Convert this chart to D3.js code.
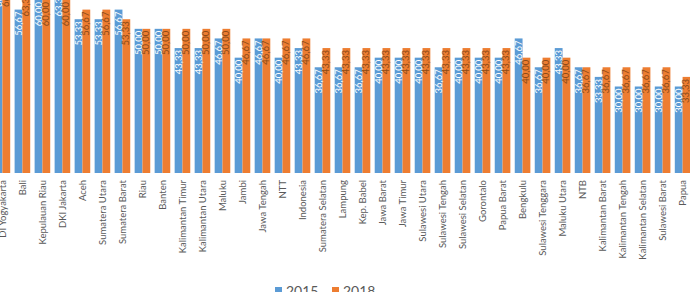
<!DOCTYPE html>
<html>
<head>
<meta charset="utf-8">
<script src="https://cdn.jsdelivr.net/npm/d3@7"></script>
<style>
  body { margin: 0; background: #fff; overflow: hidden; }
  svg { display: block; font-family: Lato, "Liberation Sans", sans-serif; }
</style>
</head>
<body>
<div id="chart"></div>
<script>
// Categories (provinces), in the order shown
const provinces = ['DI Yogyakarta', 'Bali', 'Kepulauan Riau', 'DKI Jakarta', 'Aceh', 'Sumatera Utara',
  'Sumatera Barat', 'Riau', 'Banten', 'Kalimantan Timur', 'Kalimantan Utara', 'Maluku', 'Jambi',
  'Jawa Tengah', 'NTT', 'Indonesia', 'Sumatera Selatan', 'Lampung', 'Kep. Babel', 'Jawa Barat',
  'Jawa Timur', 'Sulawesi Utara', 'Sulawesi Tengah', 'Sulawesi Selatan', 'Gorontalo', 'Papua Barat',
  'Bengkulu', 'Sulawesi Tenggara', 'Maluku Utara', 'NTB', 'Kalimantan Barat', 'Kalimantan Tengah',
  'Kalimantan Selatan', 'Sulawesi Barat', 'Papua'];

const values2015 = [66.67, 56.67, 60.00, 63.33, 53.33, 53.33, 56.67, 50.00, 50.00, 43.33, 43.33, 46.67,
  40.00, 46.67, 40.00, 43.33, 36.67, 36.67, 36.67, 40.00, 40.00, 40.00, 36.67, 40.00, 40.00, 40.00,
  46.67, 36.67, 43.33, 36.67, 33.33, 30.00, 30.00, 30.00, 30.00];

const values2018 = [66.67, 63.33, 60.00, 60.00, 56.67, 56.67, 53.33, 50.00, 50.00, 50.00, 50.00, 50.00,
  46.67, 46.67, 46.67, 46.67, 43.33, 43.33, 43.33, 43.33, 43.33, 43.33, 43.33, 43.33, 43.33, 43.33,
  40.00, 40.00, 40.00, 36.67, 36.67, 36.67, 36.67, 36.67, 33.33];

const seriesNames = ['2015', '2018'];
const colors = ['#5B9BD5', '#ED7D31'];
const labelColors = ['#ffffff', '#8c4a17'];

const W = 690, H = 292;
const svg = d3.select('#chart').append('svg')
  .attr('width', W)
  .attr('height', H);

// plot area is cropped at the top and sides in the reference
const x = d3.scaleBand()
  .domain(provinces)
  .range([-7.6, 692.6])
  .paddingInner(0.22)
  .paddingOuter(0.11);

const x1 = d3.scaleBand()
  .domain(seriesNames)
  .range([0, x.bandwidth()]);

const y = d3.scaleLinear()
  .domain([0, 60])
  .range([173, 0]);

const fmt = v => d3.format('.2f')(v).replace('.', ',');

const data = provinces.map((p, i) => ({ name: p, vals: [values2015[i], values2018[i]] }));

const groups = svg.append('g').selectAll('g')
  .data(data)
  .enter().append('g')
  .attr('transform', d => `translate(${x(d.name)},0)`);

groups.selectAll('rect')
  .data(d => d.vals.map((v, k) => ({ v, k })))
  .enter().append('rect')
  .attr('x', d => x1(seriesNames[d.k]))
  .attr('width', x1.bandwidth())
  .attr('y', d => y(d.v))
  .attr('height', d => y(0) - y(d.v))
  .attr('fill', d => colors[d.k]);

// value labels, rotated, inside the bar top
groups.selectAll('text')
  .data(d => d.vals.map((v, k) => ({ v, k })))
  .enter().append('text')
  .attr('transform', d => `translate(${x1(seriesNames[d.k]) + x1.bandwidth() / 2 + 3},${y(d.v) + 2}) rotate(-90)`)
  .attr('text-anchor', 'end')
  .style('font-size', '9.5px')
  .style('fill', d => labelColors[d.k])
  .text(d => fmt(d.v));

// category labels
svg.append('g').selectAll('text')
  .data(provinces)
  .enter().append('text')
  .attr('transform', d => `translate(${x(d) + x.bandwidth() / 2 + 3.5},180) rotate(-90)`)
  .attr('text-anchor', 'end')
  .style('font-size', '9.5px')
  .style('fill', '#595959')
  .text(d => d);

// legend
const legend = svg.append('g').attr('transform', 'translate(275,284)');
seriesNames.forEach((s, i) => {
  const g = legend.append('g').attr('transform', `translate(${i * 57},0)`);
  g.append('rect')
    .attr('x', 0).attr('y', 3)
    .attr('width', 7).attr('height', 7)
    .attr('fill', colors[i]);
  g.append('text')
    .attr('x', 11).attr('y', 12)
    .style('font-size', '14px')
    .style('fill', '#595959')
    .text(s);
});
</script>
</body>
</html>
